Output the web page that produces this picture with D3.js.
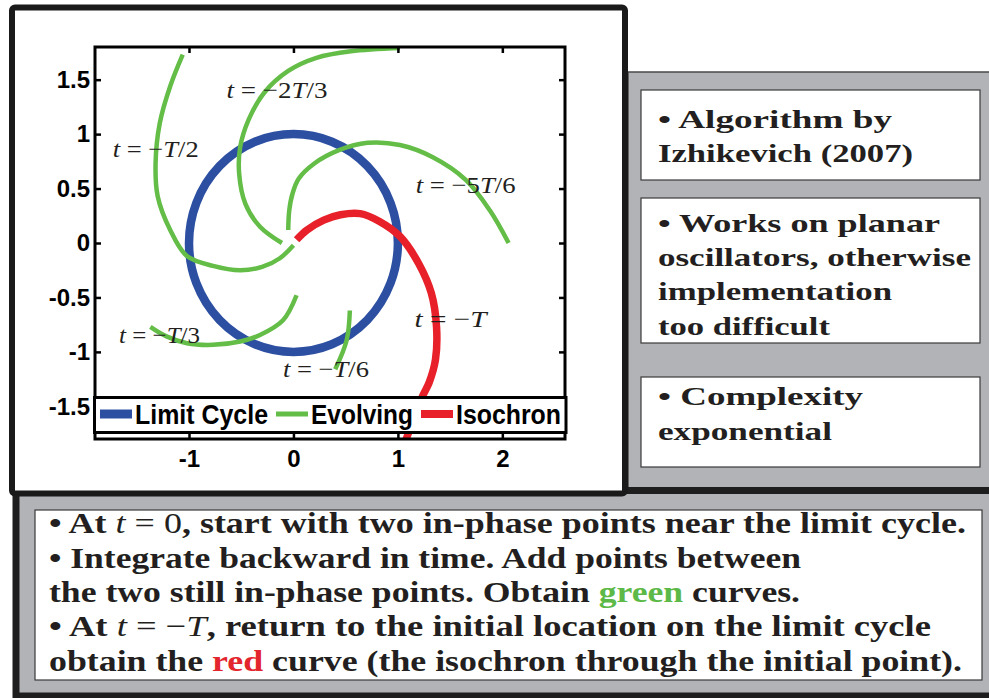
<!DOCTYPE html>
<html>
<head>
<meta charset="utf-8">
<script src="https://cdn.jsdelivr.net/npm/d3@7"></script>
<style>
  body { margin: 0; background: #fff; }
  svg { display: block; }
  text { white-space: pre; }
</style>
</head>
<body>
<svg id="slide" width="989" height="698"></svg>
<script>
// ---- axis setup ----
const xDomain = [-1.9, 2.6];
const yDomain = [-1.8, 1.8];
const xTicks = [-1, 0, 1, 2];
const xTickLabels = ["-1", "0", "1", "2"];
const yTicks = [1.5, 1, 0.5, 0, -0.5, -1, -1.5];
const yTickLabels = ["1.5", "1", "0.5", "0", "-0.5", "-1", "-1.5"];

// ---- limit cycle (centre x, centre y, radius) ----
const limitCycle = [0, 0, 1];

// ---- evolving curves, backward in time ----
const evolvingT6 = [[0.54, -0.62], [0.51, -0.89], [0.40, -1.16]];
const evolvingT3 = [[0.03, -0.48], [-0.10, -0.71], [-0.32, -0.845], [-0.51, -0.905],
  [-0.77, -0.935], [-1.02, -0.92], [-1.21, -0.86], [-1.37, -0.77]];
const evolvingT2 = [[0.0, -0.02], [-0.13, -0.14], [-0.30, -0.22], [-0.51, -0.25],
  [-0.77, -0.21], [-1.02, -0.12], [-1.18, 0.12], [-1.30, 0.43], [-1.32, 0.73],
  [-1.28, 1.10], [-1.18, 1.44], [-1.06, 1.73]];
const evolving2T3 = [[-0.11, 0.0], [-0.32, 0.15], [-0.46, 0.36], [-0.52, 0.64],
  [-0.51, 0.88], [-0.43, 1.13], [-0.28, 1.38], [-0.05, 1.58], [0.22, 1.70],
  [0.55, 1.76], [1.02, 1.79]];
const evolving5T6 = [[-0.05, 0.12], [-0.04, 0.30], [-0.01, 0.45], [0.05, 0.59],
  [0.20, 0.73], [0.43, 0.85], [0.71, 0.92], [1.02, 0.90], [1.33, 0.79],
  [1.65, 0.58], [1.88, 0.30], [2.06, 0.0]];
const evolvingCurves = [evolvingT6, evolvingT3, evolvingT2, evolving2T3, evolving5T6];

// ---- isochron through the initial point ----
const isochron = [[0.03, 0.03], [0.13, 0.12], [0.29, 0.21], [0.45, 0.26], [0.64, 0.27],
  [0.82, 0.20], [1.02, 0.06], [1.20, -0.19], [1.32, -0.46], [1.37, -0.77],
  [1.36, -1.07], [1.30, -1.28], [1.23, -1.42], [1.08, -1.80]];

// ---- time labels (text, x, y in data units) ----
const timeLabelText = ["t = −2T/3", "t = −T/2", "t = −5T/6", "t = −T", "t = −T/3", "t = −T/6"];
const timeLabelX = [-0.64, -1.73, 1.17, 1.16, -1.67, -0.10];
const timeLabelY = [1.33, 0.79, 0.46, -0.77, -0.92, -1.23];
const timeLabelWidth = [101, 86, 100, 72, 81, 86];

// ---- legend ----
const legendNames = ["Limit Cycle", "Evolving", "Isochron"];
const legendColors = ["#2c4fa2", "#63bd47", "#e8202a"];

// ---- slide notes ----
const noteAlgorithm = ["• Algorithm by", "Izhikevich (2007)"];
const notePlanar = ["• Works on planar", "oscillators, otherwise", "implementation", "too difficult"];
const noteComplexity = ["• Complexity", "exponential"];
const stepLines = [
  [["• At ", "b"], ["t", "mi"], [" = 0", "m"], [", start with two in-phase points near the limit cycle.", "b"]],
  [["• Integrate backward in time. Add points between", "b"]],
  [["the two still in-phase points. Obtain ", "b"], ["green", "g"], [" curves.", "b"]],
  [["• At ", "b"], ["t", "mi"], [" = −", "m"], ["T", "mi"], [", return to the initial location on the limit cycle", "b"]],
  [["obtain the ", "b"], ["red", "r"], [" curve (the isochron through the initial point).", "b"]]
];

// ================= drawing =================
const svg = d3.select("#slide");
const GREY = "#b2b3b6";
const INK = "#231f20";
const SERIF = "'Liberation Serif', 'Times New Roman', serif";
const SANS = "'Liberation Sans', Arial, Helvetica, sans-serif";

svg.append("rect").attr("width", 989).attr("height", 698).attr("fill", "#fff");

// right-hand panel
svg.append("rect").attr("x", 628).attr("y", 72).attr("width", 380).attr("height", 430)
  .attr("fill", GREY).attr("stroke", "#4a4a4a").attr("stroke-width", 1.5);
// bottom panel
svg.append("rect").attr("x", 16).attr("y", 490.5).attr("width", 1000).attr("height", 205.5)
  .attr("fill", GREY).attr("stroke", "#1e1e1e").attr("stroke-width", 7);
// chart card
svg.append("rect").attr("x", 12).attr("y", 7.5).attr("width", 613).attr("height", 486)
  .attr("rx", 3).attr("fill", "#fff").attr("stroke", "#1a1a1a").attr("stroke-width", 6);

// ---- plot ----
const L = 95, R = 565, T = 47, B = 439;
const x = d3.scaleLinear().domain(xDomain).range([L, R]);
const y = d3.scaleLinear().domain(yDomain).range([B, T]);

svg.append("clipPath").attr("id", "plotClip")
  .append("rect").attr("x", L).attr("y", T).attr("width", R - L).attr("height", B - T);

const plot = svg.append("g").attr("clip-path", "url(#plotClip)");
const line = d3.line().x(d => x(d[0])).y(d => y(d[1])).curve(d3.curveCatmullRom.alpha(0.5));

plot.append("ellipse")
  .attr("cx", x(limitCycle[0])).attr("cy", y(limitCycle[1]))
  .attr("rx", x(limitCycle[0] + limitCycle[2]) - x(limitCycle[0]))
  .attr("ry", y(limitCycle[1]) - y(limitCycle[1] + limitCycle[2]))
  .attr("fill", "none").attr("stroke", legendColors[0]).attr("stroke-width", 8.5);

plot.selectAll("path.evolving").data(evolvingCurves).join("path")
  .attr("class", "evolving").attr("d", line)
  .attr("fill", "none").attr("stroke", legendColors[1]).attr("stroke-width", 4.5);

plot.append("path").datum(isochron).attr("d", line)
  .attr("fill", "none").attr("stroke", legendColors[2]).attr("stroke-width", 7.5);

// math-style label: letters italic, the rest upright
function mathText(sel, str) {
  for (const ch of str) {
    sel.append("tspan").attr("font-style", /[A-Za-z]/.test(ch) ? "italic" : "normal").text(ch);
  }
}
timeLabelText.forEach((s, i) => {
  const t = svg.append("text")
    .attr("x", x(timeLabelX[i])).attr("y", y(timeLabelY[i]))
    .attr("font-family", SERIF).attr("font-size", 24).attr("fill", INK)
    .attr("textLength", timeLabelWidth[i]).attr("lengthAdjust", "spacingAndGlyphs");
  mathText(t, s);
});

// axes (ticks point inward on all four sides)
function styleAxis(g) {
  g.select(".domain").remove();
  g.selectAll(".tick line").attr("stroke", "#000").attr("stroke-width", 2.5);
  g.selectAll(".tick text").attr("font-family", SANS).attr("font-weight", "bold")
    .attr("font-size", 24).attr("fill", "#000");
}
svg.append("g").attr("transform", `translate(${L},0)`)
  .call(d3.axisLeft(y).tickValues(yTicks).tickSizeInner(-6).tickSizeOuter(0).tickPadding(5)
    .tickFormat((d, i) => yTickLabels[i]))
  .call(styleAxis);
svg.append("g").attr("transform", `translate(${R},0)`)
  .call(d3.axisRight(y).tickValues(yTicks).tickSizeInner(-6).tickSizeOuter(0).tickFormat(""))
  .call(styleAxis);
svg.append("g").attr("transform", `translate(0,${T})`)
  .call(d3.axisTop(x).tickValues(xTicks).tickSizeInner(-6).tickSizeOuter(0).tickFormat(""))
  .call(styleAxis);
svg.append("g").attr("transform", `translate(0,${B})`)
  .call(d3.axisBottom(x).tickValues(xTicks).tickSizeInner(-6).tickSizeOuter(0).tickPadding(11)
    .tickFormat((d, i) => xTickLabels[i]))
  .call(styleAxis);
svg.append("rect").attr("x", L).attr("y", T).attr("width", R - L).attr("height", B - T)
  .attr("fill", "none").attr("stroke", "#000").attr("stroke-width", 3);

// legend
const lg = svg.append("g");
lg.append("rect").attr("x", 94.5).attr("y", 397.5).attr("width", 471.5).attr("height", 35)
  .attr("fill", "#fff").attr("stroke", "#000").attr("stroke-width", 3);
const swatchW = [9, 5, 8];
const legendTextW = [133, 102, 105];
let lx = 100;
legendNames.forEach((name, i) => {
  lg.append("line").attr("x1", lx).attr("x2", lx + 32).attr("y1", 414).attr("y2", 414)
    .attr("stroke", legendColors[i]).attr("stroke-width", swatchW[i]);
  lg.append("text").attr("x", lx + 35).attr("y", 424)
    .attr("font-family", SANS).attr("font-weight", "bold").attr("font-size", 27)
    .attr("textLength", legendTextW[i]).attr("lengthAdjust", "spacingAndGlyphs")
    .attr("fill", "#000").text(name);
  lx += 35 + legendTextW[i] + 8;
});

// ---- note boxes on the right ----
function noteBox(top, height) {
  svg.append("rect").attr("x", 641).attr("y", top).attr("width", 339).attr("height", height)
    .attr("fill", "#fff").attr("stroke", "#3a3a3a").attr("stroke-width", 1.2);
}
function noteLines(lines, baselines, widths) {
  lines.forEach((s, i) => {
    svg.append("text").attr("x", 658).attr("y", baselines[i])
      .attr("font-family", SERIF).attr("font-weight", "bold").attr("font-size", 26)
      .attr("fill", INK).attr("textLength", widths[i]).attr("lengthAdjust", "spacingAndGlyphs")
      .text(s);
  });
}
noteBox(90, 90);
noteLines(noteAlgorithm, [128, 162], [234, 255]);
noteBox(198, 145);
noteLines(notePlanar, [232, 266, 300, 335], [282, 313, 234, 172]);
noteBox(377, 90);
noteLines(noteComplexity, [405, 440], [205, 174]);

// ---- step-by-step box at the bottom ----
svg.append("rect").attr("x", 35).attr("y", 510).attr("width", 947).attr("height", 170)
  .attr("fill", "#fff").attr("stroke", "#3a3a3a").attr("stroke-width", 1.2);
const stepBase = [533, 568, 602, 636, 671];
const stepWidth = [917, 752, 751, 882, 913];
stepLines.forEach((segs, i) => {
  const t = svg.append("text").attr("x", 49).attr("y", stepBase[i])
    .attr("font-family", SERIF).attr("font-size", 30).attr("fill", INK)
    .attr("textLength", stepWidth[i]).attr("lengthAdjust", "spacingAndGlyphs");
  segs.forEach(([s, k]) => {
    const sp = t.append("tspan").text(s);
    if (k === "b" || k === "g" || k === "r") sp.attr("font-weight", "bold");
    if (k === "mi") sp.attr("font-style", "italic");
    if (k === "g") sp.attr("fill", "#5cb947");
    if (k === "r") sp.attr("fill", "#e3262d");
  });
});
</script>
</body>
</html>
